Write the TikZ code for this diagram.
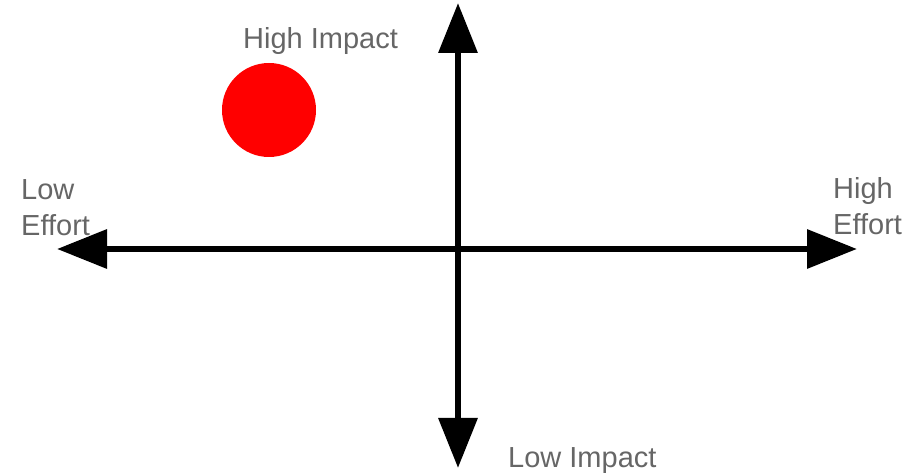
\documentclass[tikz,border=0pt]{standalone}
\usepackage{fontspec}
\setmainfont{Liberation Sans}
\usetikzlibrary{arrows.meta}
\definecolor{labelgray}{HTML}{666666}
\definecolor{dotred}{HTML}{FF0000}
\begin{document}
\begin{tikzpicture}[x=1bp,y=1bp,
  axis/.style={line width=6.5bp, draw=black,
    {Triangle[length=50bp,width=38bp]}-{Triangle[length=50bp,width=38bp]}},
  lbl/.style={inner sep=0pt, text=labelgray, font=\fontsize{29bp}{36bp}\selectfont, align=left}]
  \useasboundingbox (0,0) rectangle (916,473);
  % axis end points
  \coordinate (west) at (57,224);
  \coordinate (east) at (857,224);
  \coordinate (north) at (458,470);
  \coordinate (south) at (458,5);
  \draw[axis] (west) -- (east);
  \draw[axis] (south) -- (north);
  % marker
  \node[circle, fill=dotred, minimum size=94bp, inner sep=0pt] (dot) at (269,363) {};
  % axis labels
  \node[lbl, anchor=base west] (hi) at (243,424) {High Impact};
  \node[lbl, anchor=base west] (li) at (508,5) {Low Impact};
  \node[lbl, anchor=north west] (le) at (21,294) {Low\\Effort};
  \node[lbl, anchor=north west] (he) at (833,296) {High\\Effort};
\end{tikzpicture}
\end{document}
